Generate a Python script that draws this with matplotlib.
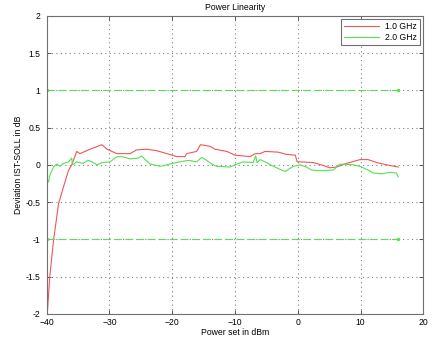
import numpy as np
import matplotlib.pyplot as plt

# deviation at 1.0 GHz (dB) vs power set (dBm)
p1 = [-39.9, -39.5, -38.9, -38.1, -37.3, -36.5, -36.0, -35.2, -34.7, -33.1, -31.2,
      -30.4, -28.8, -26.7, -25.7, -24.1, -22.5, -20.4, -19.3, -18.0, -17.7, -16.1,
      -15.5, -14.0, -13.2, -11.3, -10.0, -7.6, -6.8, -6.0, -5.2, -3.1, -1.8, -0.4,
      -0.1, 0.35, 2.5, 4.1, 5.1, 6.2, 7.8, 9.9, 11.2, 12.6, 14.7, 16.0]
d1 = [-2.0, -1.50, -1.01, -0.52, -0.29, -0.07, 0.0, 0.18, 0.15, 0.21, 0.27,
      0.21, 0.15, 0.15, 0.20, 0.21, 0.19, 0.14, 0.11, 0.11, 0.15, 0.18,
      0.27, 0.25, 0.21, 0.18, 0.13, 0.11, 0.15, 0.15, 0.18, 0.17, 0.14, 0.13,
      0.04, 0.04, 0.03, -0.01, -0.04, -0.03, 0.02, 0.07, 0.07, 0.03, -0.01, -0.03]

# deviation at 2.0 GHz (dB)
p2 = [-40.0, -39.7, -39.5, -38.9, -38.4, -37.9, -37.3, -36.5, -36.0, -35.9, -35.2,
      -34.2, -33.4, -32.8, -32.0, -31.2, -29.9, -28.8, -28.0, -26.7, -25.4, -24.9,
      -24.3, -23.5, -21.9, -20.4, -18.8, -17.4, -16.1, -15.3, -14.5, -13.7, -12.9,
      -10.8, -9.7, -8.7, -7.1, -6.7, -6.5, -6.0, -5.2, -3.9, -2.3, -2.0, -1.5,
      -0.7, 0.35, 1.4, 2.2, 3.5, 5.7, 6.5, 7.2, 8.8, 9.9, 11.2, 12.0, 13.4,
      14.7, 15.7, 16.0]
d2 = [-0.20, -0.23, -0.14, -0.03, 0.01, -0.02, 0.02, 0.04, 0.09, 0.0, 0.04,
      0.02, 0.06, 0.04, 0.0, 0.03, 0.04, 0.11, 0.11, 0.08, 0.09, 0.12,
      0.07, 0.01, -0.02, 0.01, 0.04, 0.06, 0.04, 0.10, 0.06, 0.01, -0.02,
      -0.03, 0.01, 0.04, 0.03, 0.12, 0.03, 0.07, 0.04, -0.02, -0.08, -0.09, -0.06,
      -0.02, 0.0, -0.03, -0.07, -0.08, -0.07, 0.0, 0.01, 0.0, -0.02, -0.07, -0.11, -0.12,
      -0.10, -0.11, -0.16]

# tolerance limits
lim_x = [-40, 16]
lim_hi = 1.0
lim_lo = -1.0

plt.rcParams['font.family'] = ['Liberation Sans', 'DejaVu Sans']
plt.rcParams['font.size'] = 6.2

fig = plt.figure(figsize=(4.36, 3.38), dpi=100)
ax = fig.add_axes([0.107, 0.0716, 0.864, 0.8815])

ax.plot(p1, d1, color='#f25555', lw=0.8, label='1.0 GHz')
ax.plot(p2, d2, color='#55e055', lw=0.8, label='2.0 GHz')
for lv in (lim_hi, lim_lo):
    ax.plot(lim_x, [lv, lv], color='#55e055', lw=0.8, ls=(0, (7, 3)),
            marker='.', markersize=3)

ax.set_xlim(-40, 20)
ax.set_ylim(-2, 2)
ax.set_xticks(np.arange(-40, 21, 10))
ax.set_yticks(np.arange(-2, 2.01, 0.5))
ax.set_yticklabels(['-2', '-1.5', '-1', '-0.5', '0', '0.5', '1', '1.5', '2'])
ax.grid(True, ls=(0, (1, 3)), color='#808080', lw=0.8)
ax.tick_params(direction='in', top=True, right=True, length=3, width=0.6,
               color='#404040')
ax.tick_params(axis='y', pad=4.5)
ax.tick_params(axis='x', pad=3)
for s in ax.spines.values():
    s.set_color('#707070')
    s.set_linewidth(0.8)

ax.set_title('Power Linearity', fontsize=6.2, pad=4)
ax.set_xlabel('Power set in dBm', labelpad=1)
ax.set_ylabel('Deviation IST-SOLL in dB', labelpad=2)

leg = ax.legend(loc='upper right', fancybox=False, framealpha=1,
                edgecolor='#707070', borderaxespad=0.35, handlelength=4,
                handletextpad=0.8, borderpad=0.35, labelspacing=0.3)
leg.get_frame().set_linewidth(0.8)

fig.savefig('out.png', dpi=100)
